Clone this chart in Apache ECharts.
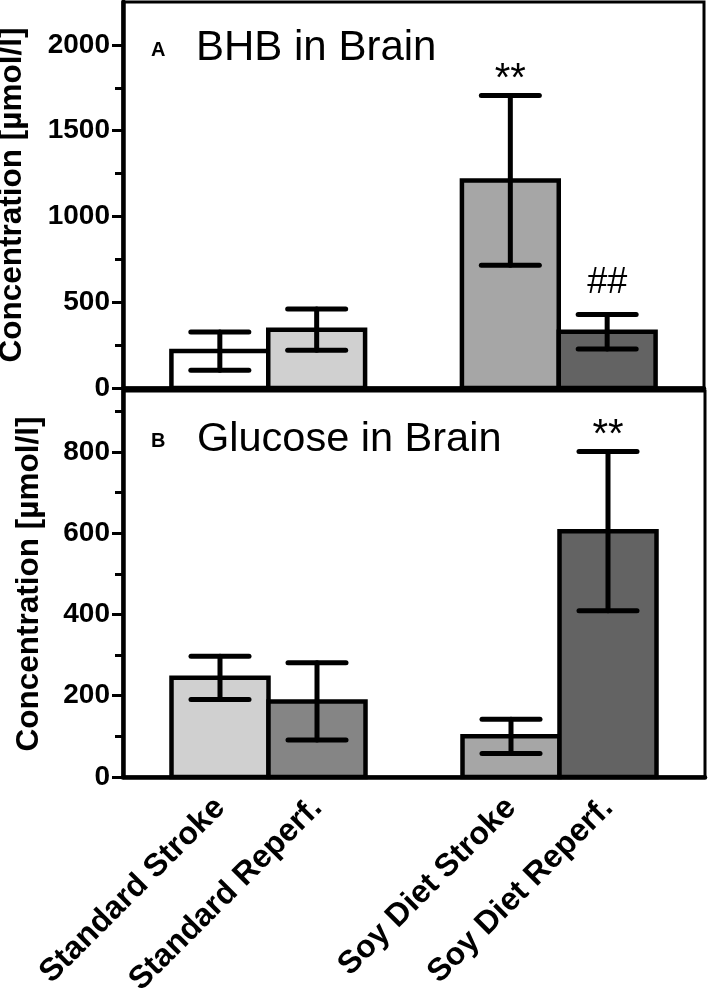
<!DOCTYPE html>
<html>
<head>
<meta charset="utf-8">
<script src="https://cdn.jsdelivr.net/npm/echarts@6/dist/echarts.min.js"></script>
<style>
html,body{margin:0;padding:0;background:#fff;}
#chart{width:709px;height:988px;}
</style>
</head>
<body>
<div id="chart"></div>
<script>
// ---- data ----
const categories = ['Standard Stroke', 'Standard Reperf.', 'Soy Diet Stroke', 'Soy Diet Reperf.'];
const xSlots = [1, 2, 4, 5];          // category slots on the x scale (slot 3 is the gap between diets)
const bhbMean = [215, 340, 1210, 328];
const bhbErr = [112, 120, 495, 100];
const bhbSig = ['', '', '**', '##'];
const gluMean = [244, 186, 100, 605];
const gluErr = [53, 95, 42, 196];
const gluSig = ['', '', '', '**'];
const bhbTicks = [0, 500, 1000, 1500, 2000];
const gluTicks = [0, 200, 400, 600, 800];

// ---- styles ----
const FONT = 'Liberation Sans, Arial, Helvetica, sans-serif';
const bhbColors = ['#ffffff', '#d0d0d0', '#a6a6a6', '#636363'];
const gluColors = ['#d0d0d0', '#858585', '#a6a6a6', '#636363'];

function buildData(means, errs) {
  return means.map((m, i) => [xSlots[i], m, errs[i], i]);
}

function barSeries(idx, means, errs, colors) {
  return {
    type: 'custom',
    xAxisIndex: idx, yAxisIndex: idx,
    data: buildData(means, errs),
    z: 2,
    renderItem: function (params, api) {
      const x = api.value(0), v = api.value(1);
      const p0 = api.coord([x, 0]);
      const p1 = api.coord([x, v]);
      const w = api.size([1, 0])[0];
      return {
        type: 'rect',
        shape: { x: p1[0] - w / 2, y: p1[1], width: w, height: p0[1] - p1[1] },
        style: { fill: colors[api.value(3)], stroke: '#000', lineWidth: 4.5 }
      };
    }
  };
}

function errSeries(idx, means, errs, sigs) {
  return {
    type: 'custom',
    xAxisIndex: idx, yAxisIndex: idx,
    data: buildData(means, errs),
    z: 3,
    renderItem: function (params, api) {
      const x = api.value(0), v = api.value(1), e = api.value(2);
      const sig = sigs[api.value(3)];
      const hi = api.coord([x, v + e]);
      const lo = api.coord([x, v - e]);
      const cap = 29;
      const ls = { stroke: '#000', lineWidth: 5, lineCap: 'round' };
      const children = [
        { type: 'line', shape: { x1: hi[0], y1: hi[1], x2: lo[0], y2: lo[1] }, style: ls },
        { type: 'line', shape: { x1: hi[0] - cap, y1: hi[1], x2: hi[0] + cap, y2: hi[1] }, style: ls },
        { type: 'line', shape: { x1: lo[0] - cap, y1: lo[1], x2: lo[0] + cap, y2: lo[1] }, style: ls }
      ];
      if (sig) {
        const isStar = sig.indexOf('*') >= 0;
        children.push({
          type: 'text',
          style: {
            x: hi[0], y: hi[1] - (isStar ? 16 : 31),
            text: sig,
            fill: '#000',
            font: 'normal ' + (isStar ? 40 : 36) + 'px ' + FONT,
            align: 'center',
            verticalAlign: 'middle'
          }
        });
      }
      return { type: 'group', children: children };
    }
  };
}

function yAxis(idx, max, interval, ticks, nameGap) {
  return {
    gridIndex: idx,
    type: 'value',
    min: 0, max: max, interval: interval,
    name: 'Concentration [µmol/l]',
    nameLocation: 'middle',
    nameGap: nameGap,
    nameTextStyle: { fontFamily: FONT, fontWeight: 'bold', fontSize: 31.5, color: '#000' },
    axisLine: { show: true, lineStyle: { color: '#000', width: 4.5 } },
    axisTick: { show: true, length: 11, customValues: ticks, lineStyle: { color: '#000', width: 3 } },
    minorTick: { show: true, splitNumber: 2, length: 8, lineStyle: { color: '#000', width: 3 } },
    splitLine: { show: false },
    axisLabel: {
      show: true, margin: 13, customValues: ticks,
      fontFamily: FONT, fontWeight: 'bold', fontSize: 28, color: '#000',
      formatter: function (v) { return String(v); }
    }
  };
}

function xAxis(idx, showLabels) {
  return {
    gridIndex: idx,
    type: 'value',
    min: 0, max: 6, interval: 1,
    axisLine: { show: true, lineStyle: { color: '#000', width: 4.5 } },
    axisTick: { show: false },
    splitLine: { show: false },
    axisLabel: {
      show: showLabels,
      rotate: 45,
      margin: 26,
      customValues: xSlots,
      fontFamily: FONT, fontWeight: 'bold', fontSize: 32, color: '#000',
      formatter: function (v) {
        const k = xSlots.indexOf(v);
        return k >= 0 ? categories[k] : '';
      }
    }
  };
}

const chart = echarts.init(document.getElementById('chart'), null, { renderer: 'canvas' });
chart.setOption({
  animation: false,
  backgroundColor: '#fff',
  title: [
    { text: 'A', left: 151, top: 40, padding: 0, textStyle: { fontFamily: FONT, fontWeight: 'bold', fontSize: 20, color: '#000' } },
    { text: 'BHB in Brain', left: 196, top: 27, padding: 0, textStyle: { fontFamily: FONT, fontWeight: 'normal', fontSize: 42, color: '#000' } },
    { text: 'B', left: 151, top: 431, padding: 0, textStyle: { fontFamily: FONT, fontWeight: 'bold', fontSize: 20, color: '#000' } },
    { text: 'Glucose in Brain', left: 197, top: 419, padding: 0, textStyle: { fontFamily: FONT, fontWeight: 'normal', fontSize: 41.5, color: '#000' } }
  ],
  grid: [
    { left: 123, right: 5, top: 2, height: 386, show: true, borderColor: '#000', borderWidth: 3, backgroundColor: 'transparent', outerBoundsMode: 'none' },
    { left: 123, right: 4, top: 391, height: 386, show: true, borderColor: '#000', borderWidth: 3, backgroundColor: 'transparent', outerBoundsMode: 'none' }
  ],
  xAxis: [xAxis(0, false), xAxis(1, true)],
  yAxis: [yAxis(0, 2250, 500, bhbTicks, 95), yAxis(1, 950, 200, gluTicks, 78)],
  series: [
    barSeries(0, bhbMean, bhbErr, bhbColors),
    errSeries(0, bhbMean, bhbErr, bhbSig),
    barSeries(1, gluMean, gluErr, gluColors),
    errSeries(1, gluMean, gluErr, gluSig)
  ]
});
</script>
</body>
</html>
